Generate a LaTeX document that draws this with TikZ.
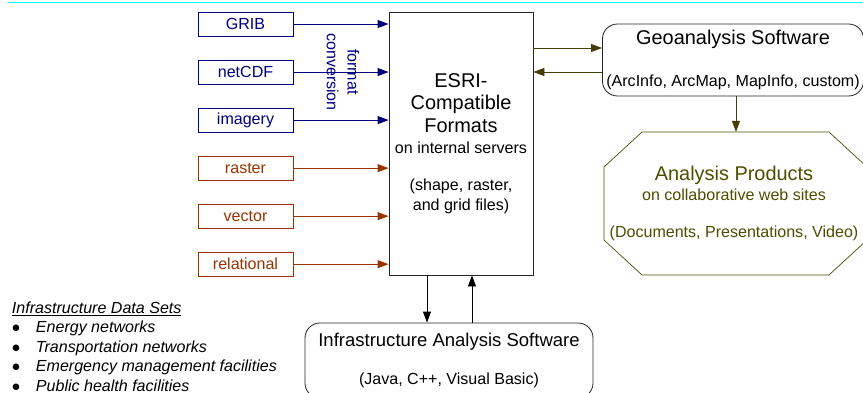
\documentclass[tikz,border=0pt]{standalone}
\usepackage{fontspec}
\setmainfont{Liberation Sans}
\usepackage{tikz}
\usetikzlibrary{arrows.meta, positioning, calc}
\definecolor{fmtblue}{RGB}{0,0,128}
\definecolor{fmtbrown}{RGB}{153,51,0}
\definecolor{geoolive}{RGB}{64,64,0}
\definecolor{prodolive}{RGB}{77,77,0}
\definecolor{rulecyan}{RGB}{0,255,255}
\newcommand{\bigsz}{\fontsize{17pt}{19.6pt}\selectfont}
\newcommand{\smallsz}{\fontsize{13.7pt}{16.5pt}\selectfont}
\tikzset{
    src_box/.style={draw, rectangle, minimum width=2.85cm, minimum height=0.72cm, inner sep=0pt, line width=0.6pt, font=\smallsz},
    blue_src/.style={src_box, draw=fmtblue, text=fmtblue},
    brown_src/.style={src_box, draw=fmtbrown, text=fmtbrown},
    fmt_box/.style={draw=black!85, rectangle, minimum width=4.32cm, minimum height=7.89cm, align=center, line width=0.7pt, font=\fontsize{13.7pt}{17.1pt}\selectfont},
    soft_box/.style={draw=black!85, rectangle, rounded corners=0.45cm, align=center, line width=0.7pt, font=\smallsz},
    prod_text/.style={align=center, text=prodolive, font=\fontsize{13.7pt}{17.3pt}\selectfont},
    arrow/.style={line width=0.7pt, -{Triangle[length=0.33cm, width=0.24cm]}}
}

\begin{document}
\begin{tikzpicture}[x=0.03cm, y=-0.03cm, node distance=0.70cm]
    \useasboundingbox (0,0) rectangle (863,393);
    \clip (0,0) rectangle (863,393);
    \draw[rulecyan, line width=0.8pt] (8,2) -- (863,2);

    % Input formats
    \node[blue_src] (grib) at (245.5,24) {GRIB};
    \node[blue_src, below=of grib] (netcdf) {netCDF};
    \node[blue_src, below=of netcdf] (imagery) {imagery};
    \node[brown_src, below=of imagery] (raster) {raster};
    \node[brown_src, below=of raster] (vector) {vector};
    \node[brown_src, below=of vector] (relational) {relational};

    \node[rotate=-90, align=center, text=fmtblue, font=\fontsize{13.7pt}{17.7pt}\selectfont] (conv) at (343,72) {format\\conversion};

    % Central store
    \node[fmt_box] (esri) at (461,143.5) {{\bigsz ESRI-}\\[2.3pt]
        {\bigsz Compatible}\\[1.9pt]
        {\bigsz Formats}\\[0.8pt]
        on internal servers\\[14.8pt]
        (shape, raster,\\
        and grid files)};

    % Software and products
    \node[soft_box, minimum width=7.74cm, minimum height=2.16cm] (geo) at (733,60)
        {{\bigsz Geoanalysis Software}\\[18.6pt](ArcInfo, ArcMap, MapInfo, custom)};
    \node[soft_box, minimum width=8.64cm, minimum height=2.25cm] (infra) at (449,360.5)
        {{\fontsize{15.8pt}{18pt}\selectfont Infrastructure Analysis Software}\\[15.9pt](Java, C++, Visual Basic)};

    \node[minimum width=7.89cm, minimum height=4.29cm, inner sep=0pt, outer sep=0pt] (prod) at (735.5,203.5) {};
    \draw[prodolive, line width=0.6pt] ($(prod.north west)+(38,0)$) -- ($(prod.north east)+(-38,0)$)
        -- ($(prod.north east)+(0,35)$) -- ($(prod.south east)+(0,-35)$)
        -- ($(prod.south east)+(-38,0)$) -- ($(prod.south west)+(38,0)$)
        -- ($(prod.south west)+(0,-35)$) -- ($(prod.north west)+(0,35)$) -- cycle;
    \node[prod_text] (prodtxt) at ($(prod.center)+(-1.5,0)$)
        {{\bigsz Analysis Products}\\ on collaborative web sites\\[14.3pt] (Documents, Presentations, Video)};

    % Data sets list
    \node[anchor=north west, inner sep=0pt, align=left, font=\fontsize{13.7pt}{16.6pt}\selectfont\itshape] (sets) at (11.7,302)
        {\underline{Infrastructure Data Sets}\\[-0.3pt]
        \makebox[20.5pt][l]{$\bullet$}Energy networks\\
        \makebox[20.5pt][l]{$\bullet$}Transportation networks\\
        \makebox[20.5pt][l]{$\bullet$}Emergency management facilities\\
        \makebox[20.5pt][l]{$\bullet$}Public health facilities};

    % Connections
    \foreach \s in {grib, netcdf, imagery}
        \draw[arrow, fmtblue] (\s.east) -- (\s.east -| esri.west);
    \foreach \s in {raster, vector, relational}
        \draw[arrow, fmtbrown] (\s.east) -- (\s.east -| esri.west);

    \draw[arrow, geoolive] ($(esri.east |- geo.west)+(0,-12)$) -- ($(geo.west)+(0,-12)$);
    \draw[arrow, geoolive] ($(geo.west)+(0,12)$) -- ($(esri.east |- geo.west)+(0,12)$);
    \draw[arrow, geoolive] ($(geo.south)+(3,0)$) -- ($(prod.north)+(0.5,0)$);

    \coordinate (down) at ($(esri.south)+(-34,0)$);
    \coordinate (up) at ($(esri.south)+(11,0)$);
    \draw[arrow] (down) -- (down |- infra.north);
    \draw[arrow] (up |- infra.north) -- (up);
\end{tikzpicture}
\end{document}
